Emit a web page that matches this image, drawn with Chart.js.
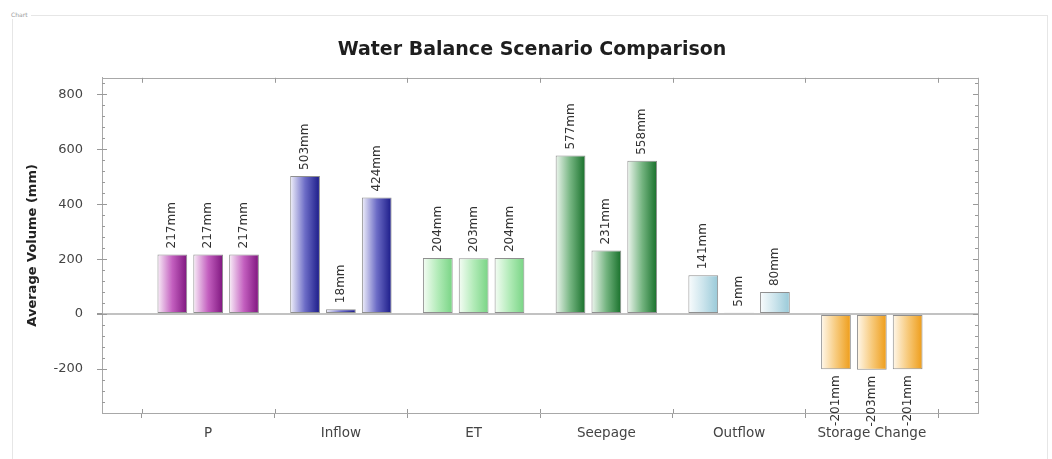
<!DOCTYPE html>
<html><head><meta charset="utf-8">
<script src="https://cdn.jsdelivr.net/npm/chart.js@4.4.1/dist/chart.umd.min.js"></script>
<style>
html,body{margin:0;padding:0;background:#fff;}
#wrap{position:relative;width:1052px;height:459px;overflow:hidden;}
#box{position:absolute;left:12px;top:15px;width:1034px;height:460px;border:1px solid #e6e6e6;pointer-events:none;}
#lbl{position:absolute;left:10px;top:11px;font:6px/8px 'DejaVu Sans',sans-serif;color:#999;background:#fff;padding:0 3px 0 1px;}
#c{position:absolute;left:0;top:0;}
</style></head><body>
<div id="wrap"><div id="box"></div><span id="lbl">Chart</span><canvas id="c" width="1052" height="459"></canvas></div>
<script>
const categories = ['P', 'Inflow', 'ET', 'Seepage', 'Outflow', 'Storage Change'];
const scenario1 = [217, 503, 204, 577, 141, -201];
const scenario2 = [217, 18, 203, 231, 5, -203];
const scenario3 = [217, 424, 204, 558, 80, -201];
const yTickValues = [-200, 0, 200, 400, 600, 800];
const yMin = -360, yMax = 860, minorStep = 40;

const darkColors  = ['#7e157e', '#1a1a88', '#78d484', '#17702a', '#98c9d8', '#ee9c18'];
const midColors   = ['#c35fbf', '#6c6cc6', '#b2ebb8', '#74b480', '#cbe4ec', '#f7ca7c'];
const lightColors = ['#f9eef8', '#f1f1fb', '#f5fdf5', '#eef6ef', '#f9fcfd', '#fff8ec'];

const X_PAD = 0.30;

const gradientPlugin = {
  id: 'grad',
  beforeDatasetsDraw(chart) {
    const ctx = chart.ctx;
    chart.data.datasets.forEach((ds, di) => {
      chart.getDatasetMeta(di).data.forEach((el, i) => {
        const x0 = el.x - el.width / 2, x1 = el.x + el.width / 2;
        const g = ctx.createLinearGradient(x0, 0, x1, 0);
        g.addColorStop(0, lightColors[i]);
        g.addColorStop(0.5, midColors[i]);
        g.addColorStop(1, darkColors[i]);
        el.options = Object.assign({}, el.options, { backgroundColor: g });
      });
    });
  }
};

const framePlugin = {
  id: 'frame',
  afterDatasetsDraw(chart) {
    const ctx = chart.ctx, a = chart.chartArea;
    const y = chart.scales.y, x = chart.scales.x;
    ctx.save();
    ctx.strokeStyle = '#a8a8a8';
    ctx.lineWidth = 1;
    ctx.beginPath();
    ctx.moveTo(a.left, Math.round(a.top) + 0.5);
    ctx.lineTo(a.right, Math.round(a.top) + 0.5);
    ctx.moveTo(Math.round(a.right) + 0.5, a.top);
    ctx.lineTo(Math.round(a.right) + 0.5, a.bottom);
    ctx.stroke();
    ctx.strokeStyle = '#999';
    ctx.beginPath();
    for (let v = yMin + minorStep; v < yMax; v += minorStep) {
      const p = Math.round(y.getPixelForValue(v)) + 0.5;
      const len = (v % 200 === 0) ? 5 : 3;
      ctx.moveTo(a.left, p); ctx.lineTo(a.left + len, p);
      ctx.moveTo(a.right, p); ctx.lineTo(a.right - len, p);
    }
    for (let i = 0; i <= categories.length; i++) {
      const p = Math.round(x.getPixelForValue(i - 0.5)) + 0.5;
      ctx.moveTo(p, a.top); ctx.lineTo(p, a.top + 5);
      ctx.moveTo(p, a.bottom); ctx.lineTo(p, a.bottom - 4);
    }
    ctx.stroke();
    ctx.restore();
  }
};

const labelPlugin = {
  id: 'valLabels',
  afterDatasetsDraw(chart) {
    const ctx = chart.ctx;
    ctx.save();
    ctx.font = '12px "DejaVu Sans", sans-serif';
    ctx.fillStyle = '#333';
    ctx.textBaseline = 'middle';
    chart.data.datasets.forEach((ds, di) => {
      chart.getDatasetMeta(di).data.forEach((el, i) => {
        const v = ds.data[i];
        const txt = v + 'mm';
        ctx.save();
        if (v >= 0) { ctx.translate(el.x, el.y - 6); ctx.textAlign = 'left'; }
        else { ctx.translate(el.x, el.y + 6); ctx.textAlign = 'right'; }
        ctx.rotate(-Math.PI / 2);
        ctx.fillText(txt, 0, 0);
        ctx.restore();
      });
    });
    ctx.restore();
  }
};

const barStyle = {
  yAxisID: 'y',
  backgroundColor: c => darkColors[c.dataIndex],
  borderColor: 'rgba(105,105,105,0.75)',
  borderWidth: 1,
  borderSkipped: false
};

new Chart(document.getElementById('c'), {
  type: 'bar',
  data: {
    labels: categories,
    datasets: [
      Object.assign({ label: 'Scenario 1', data: scenario1 }, barStyle),
      Object.assign({ label: 'Scenario 2', data: scenario2 }, barStyle),
      Object.assign({ label: 'Scenario 3', data: scenario3 }, barStyle)
    ]
  },
  options: {
    responsive: false,
    animation: false,
    layout: { padding: { left: 12, right: 0, top: 0, bottom: 0 } },
    datasets: {
      bar: { categoryPercentage: 0.81, barPercentage: 0.83 }
    },
    plugins: {
      colors: { enabled: false },
      legend: { display: false },
      tooltip: { enabled: false },
      title: {
        display: true,
        text: 'Water Balance Scenario Comparison',
        color: '#1e1e1e',
        font: { family: 'DejaVu Sans', size: 19, weight: 'bold' },
        padding: { top: 39, bottom: 16 }
      }
    },
    scales: {
      x: {
        position: 'bottom',
        offset: true,
        grid: { offset: true, drawOnChartArea: false, tickLength: 5, tickColor: '#999' },
        border: { color: '#a8a8a8' },
        ticks: { color: '#444', font: { family: 'DejaVu Sans', size: 13.5 }, padding: 7, maxRotation: 0, autoSkip: false },
        afterBuildTicks: s => { s._startValue = -0.5 - X_PAD; s._valueRange = categories.length + 2 * X_PAD; },
        afterFit: s => { s.height = 46; }
      },
      y: {
        position: 'left',
        min: yMin,
        max: yMax,
        afterBuildTicks: s => { s.ticks = yTickValues.map(v => ({ value: v })); },
        ticks: { color: '#444', font: { family: 'DejaVu Sans', size: 13 }, padding: 14 },
        grid: {
          color: c => (c.tick && c.tick.value === 0) ? '#c2c2c2' : 'rgba(0,0,0,0)',
          lineWidth: c => (c.tick && c.tick.value === 0) ? 2 : 1,
          tickColor: '#999',
          tickLength: 5
        },
        border: { color: '#a8a8a8' },
        title: {
          display: true,
          text: 'Average Volume (mm)',
          color: '#222',
          font: { family: 'DejaVu Sans', size: 13, weight: 'bold' },
          padding: { top: 13, bottom: 0 }
        },
        afterFit: s => { s.width = 90; }
      },
      yR: {
        position: 'right',
        min: yMin,
        max: yMax,
        display: true,
        grid: { display: false },
        border: { display: false },
        ticks: { display: false },
        afterFit: s => { s.width = 74; }
      }
    }
  },
  plugins: [gradientPlugin, framePlugin, labelPlugin]
});
</script>
</body></html>
